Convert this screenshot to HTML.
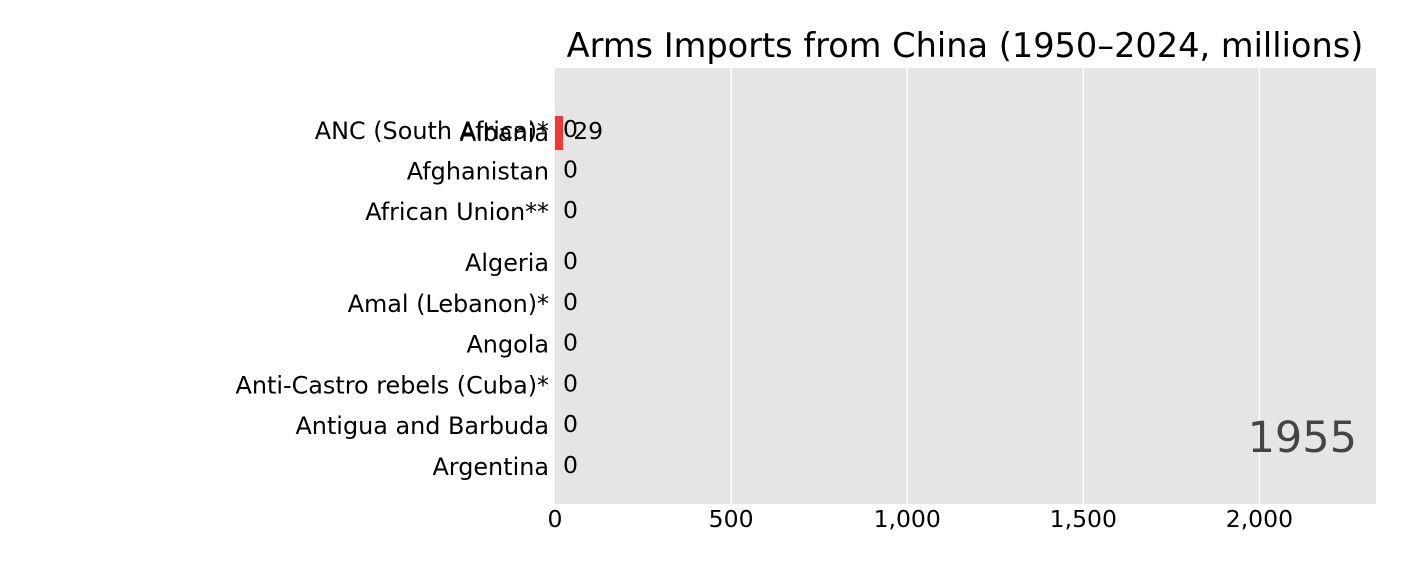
<!DOCTYPE html>
<html><head><meta charset="utf-8"><style>
html,body{margin:0;padding:0;background:#fff;}
svg{display:block;font-family:"DejaVu Sans","Liberation Sans",sans-serif;}
</style></head><body>
<svg id="chart" width="1422" height="576" viewBox="0 0 1422 576" xmlns="http://www.w3.org/2000/svg">
<rect x="555" y="68" width="821" height="436" fill="#e5e5e5"/>
<g id="grid"></g>
<g id="bars"></g>
<g id="ticks"></g>
<text x="965" y="57" font-size="33.6" text-anchor="middle" fill="#000">Arms Imports from China (1950–2024, millions)</text>
<text x="1357" y="452" font-size="43" text-anchor="end" fill="#444">1955</text>
</svg>
<script>
const categories = ["ANC (South Africa)*","Albania","Afghanistan","African Union**","Algeria","Amal (Lebanon)*","Angola","Anti-Castro rebels (Cuba)*","Antigua and Barbuda","Argentina"];
const values = [0,29,0,0,0,0,0,0,0,0];
const ranks = [0,0.05,1,2,3.25,4.26,5.26,6.27,7.26,8.27];
const ticks = [0,500,1000,1500,2000];
const tickLabels = ["0","500","1,000","1,500","2,000"];

const NS="http://www.w3.org/2000/svg";
const x0=555, xMaxPx=1376, xMax=2331;
const xs=v=>x0+(v/xMax)*(xMaxPx-x0);
const ys=r=>131+r*40.6;
function mk(tag,attrs,parent){const e=document.createElementNS(NS,tag);for(const k in attrs)e.setAttribute(k,attrs[k]);parent.appendChild(e);return e;}
const grid=document.getElementById('grid'), bars=document.getElementById('bars'), tk=document.getElementById('ticks');
ticks.forEach((t,i)=>{
  if(t>0){const l=mk('line',{x1:xs(t),x2:xs(t),y1:68,y2:504,stroke:'#fff','stroke-width':1.5},grid);
  
  }
  const tx=mk('text',{x:xs(t),y:527,'font-size':23.5,'text-anchor':'middle',fill:'#000'},tk);
  tx.textContent=tickLabels[i];
  
  
});
categories.forEach((c,i)=>{
  const y=ys(ranks[i]);
  if(values[i]>0){
    const r=mk('rect',{x:x0,y:y-17,width:(xs(values[i])-x0)*0.8,height:34,fill:'#f03838'},bars);
    
    
  }
  const lab=mk('text',{x:549,y:y+8,'font-size':23.9,'text-anchor':'end',fill:'#000'},bars);
  lab.textContent=c;
  
  
  const vl=mk('text',{x:xs(values[i])+8,y:y+6,'font-size':23.5,fill:'#000'},bars);
  vl.textContent=values[i];
  
  
});
</script>
</body></html>
